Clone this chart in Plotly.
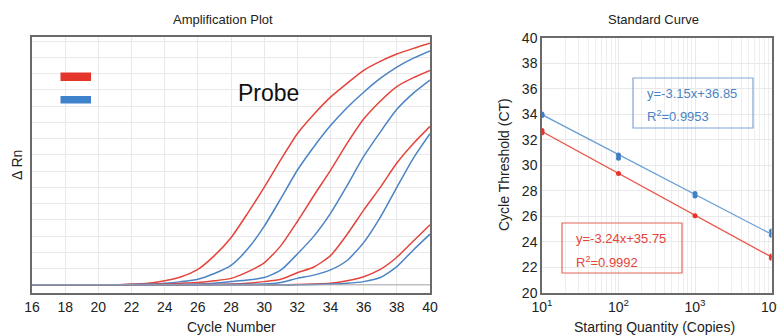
import plotly.graph_objects as go

# ---------------- data ----------------
cycles = list(range(16, 41))
z6 = [0, 0, 0, 0, 0, 0]
red1 = z6 + [0.05, 0.1, 0.25, 0.5, 0.95, 1.8, 2.9, 4.4, 6.0, 7.7, 9.3, 10.5, 11.55, 12.4, 13.2, 13.75, 14.2, 14.55, 14.87]
blue1 = z6 + [0.02, 0.05, 0.1, 0.2, 0.35, 0.7, 1.2, 2.2, 3.6, 5.3, 7.05, 8.5, 9.8, 10.9, 11.85, 12.7, 13.4, 13.95, 14.4]
red2 = z6 + [0.0, 0.02, 0.05, 0.1, 0.15, 0.25, 0.4, 0.8, 1.35, 2.4, 3.9, 5.5, 7.05, 8.7, 10.2, 11.3, 12.2, 12.75, 13.2]
blue2 = z6 + [0.0, 0.0, 0.02, 0.03, 0.05, 0.1, 0.2, 0.3, 0.45, 0.9, 1.9, 3.0, 4.4, 6.1, 7.9, 9.4, 10.8, 11.8, 12.6]
red3 = z6 + [0.0, 0.0, 0.0, 0.0, 0.02, 0.03, 0.05, 0.1, 0.2, 0.35, 0.75, 1.1, 1.8, 3.1, 4.6, 6.0, 7.5, 8.7, 9.75]
blue3 = z6 + [0.0, 0.0, 0.0, 0.0, 0.0, 0.02, 0.03, 0.04, 0.05, 0.15, 0.4, 0.6, 0.92, 1.5, 2.6, 4.15, 6.0, 7.8, 9.3]
red4 = z6 + [0.0, 0.0, 0.0, 0.0, 0.0, 0.0, 0.0, 0.0, 0.0, 0.0, 0.02, 0.05, 0.1, 0.25, 0.5, 0.95, 1.7, 2.7, 3.7]
blue4 = z6 + [0.0, 0.0, 0.0, 0.0, 0.0, 0.0, 0.0, 0.0, 0.0, 0.0, 0.0, 0.02, 0.05, 0.1, 0.2, 0.45, 1.12, 2.15, 3.12]

amp_x_ticks = list(range(16, 41, 2))

quantity_blue = [10, 10, 100, 100, 1000, 1000, 10000, 10000]
ct_blue = [34.03, 33.9, 30.82, 30.56, 27.8, 27.6, 24.86, 24.53]
quantity_red = [10, 10, 100, 1000, 10000, 10000]
ct_red = [32.73, 32.55, 29.36, 26.05, 22.9, 22.72]
fit_x = [10, 10000]
fit_blue = [33.97, 24.6]
fit_red = [32.65, 22.82]
sq_tickvals = [10, 100, 1000, 10000]
sq_ticktext = ["10<sup>1</sup>", "10<sup>2</sup>", "10<sup>3</sup>", "10<sup>4</sup>"]
sq_minor = [2, 3, 4, 5, 6, 7, 8, 9, 20, 30, 40, 50, 60, 70, 80, 90,
            200, 300, 400, 500, 600, 700, 800, 900, 2000, 3000, 4000, 5000, 6000, 7000, 8000, 9000]
eq_blue = ["y=-3.15x+36.85", "R<sup>2</sup>=0.9953"]
eq_red = ["y=-3.24x+35.75", "R<sup>2</sup>=0.9992"]

RED = "#e4443b"
BLUE = "#4a84c4"
FONT = "Liberation Sans, Arial, sans-serif"
W, H = 777, 335


def px(x):
    return x / W


def py(y):
    return 1 - y / H


fig = go.Figure()

for ys, col in [(red1, RED), (blue1, BLUE), (red2, RED), (blue2, BLUE),
                (red3, RED), (blue3, BLUE), (red4, RED), (blue4, BLUE)]:
    fig.add_trace(go.Scatter(x=cycles, y=ys, mode="lines", xaxis="x", yaxis="y",
                             line=dict(color=col, width=1.5, shape="spline", smoothing=0.6),
                             showlegend=False, hoverinfo="skip"))

fig.add_trace(go.Scatter(x=fit_x, y=fit_blue, mode="lines", xaxis="x2", yaxis="y2",
                         line=dict(color="#6a9fd6", width=1.3), showlegend=False))
fig.add_trace(go.Scatter(x=fit_x, y=fit_red, mode="lines", xaxis="x2", yaxis="y2",
                         line=dict(color="#e8574c", width=1.3), showlegend=False))
fig.add_trace(go.Scatter(x=quantity_blue, y=ct_blue, mode="markers", xaxis="x2", yaxis="y2",
                         marker=dict(color="#3f7fc4", size=5), showlegend=False))
fig.add_trace(go.Scatter(x=quantity_red, y=ct_red, mode="markers", xaxis="x2", yaxis="y2",
                         marker=dict(color="#e8332a", size=5), showlegend=False))

GRID = "#e9e9e9"
FRAME = "#6a6a6a"
tickfont = dict(family=FONT, size=14, color="#222")

fig.update_layout(
    width=W, height=H,
    margin=dict(l=0, r=0, t=0, b=0),
    paper_bgcolor="white", plot_bgcolor="white",
    font=dict(family=FONT, color="#222"),
    xaxis=dict(domain=[px(32), px(430)], range=[16, 40], tickvals=amp_x_ticks,
               showgrid=True, gridcolor=GRID, gridwidth=1, zeroline=False,
               showline=True, linecolor=FRAME, linewidth=1.5, mirror=True,
               ticks="", tickfont=tickfont, automargin=False),
    yaxis=dict(domain=[py(293), py(37)], range=[-0.5, 15.25], tick0=0, dtick=1,
               showgrid=True, gridcolor=GRID, gridwidth=1, zeroline=False,
               showticklabels=False, ticks="",
               showline=True, linecolor=FRAME, linewidth=1.5, mirror=True, automargin=False),
    xaxis2=dict(domain=[px(542), px(771.5)], type="log", range=[1, 4],
                tickvals=sq_tickvals, ticktext=sq_ticktext, ticklabeloverflow="allow",
                showgrid=True, gridcolor=GRID, gridwidth=1, zeroline=False,
                minor=dict(tickvals=sq_minor, showgrid=True, gridcolor="#eeeeee", gridwidth=1, ticks=""),
                showline=True, linecolor=FRAME, linewidth=1.5, mirror=True,
                ticks="", tickfont=tickfont, automargin=False, anchor="y2"),
    yaxis2=dict(domain=[py(293), py(37.7)], range=[20, 40], dtick=2,
                showgrid=True, gridcolor=GRID, gridwidth=1, zeroline=False,
                showline=True, linecolor=FRAME, linewidth=1.5, mirror=True,
                ticks="", tickfont=tickfont, automargin=False, anchor="x2"),
)

# threshold/baseline line
fig.add_shape(type="line", xref="x domain", yref="y", x0=0, x1=1, y0=0, y1=0,
              line=dict(color="#a8a8a8", width=1))

# colour keys
fig.add_shape(type="rect", xref="paper", yref="paper", x0=px(60.5), x1=px(91), y0=py(81), y1=py(72.5),
              fillcolor="#e5352b", line=dict(width=0))
fig.add_shape(type="rect", xref="paper", yref="paper", x0=px(60.5), x1=px(91), y0=py(103.5), y1=py(96),
              fillcolor="#3f82cc", line=dict(width=0))

# equation boxes
fig.add_shape(type="rect", xref="paper", yref="paper", x0=px(633), x1=px(753), y0=py(128), y1=py(78),
              line=dict(color="#7fa6d4", width=1.2), fillcolor="rgba(0,0,0,0)")
fig.add_shape(type="rect", xref="paper", yref="paper", x0=px(562), x1=px(682), y0=py(273), y1=py(223),
              line=dict(color="#e8655b", width=1.2), fillcolor="rgba(0,0,0,0)")

ann = []


def text(x, y, s, size=13, color="#222", angle=0, xanchor="center"):
    ann.append(dict(x=px(x), y=py(y), xref="paper", yref="paper", text=s, showarrow=False,
                    font=dict(family=FONT, size=size, color=color), textangle=angle,
                    xanchor=xanchor, yanchor="middle"))


text(223, 19, "Amplification Plot", size=13)
text(231, 327, "Cycle Number", size=14)
text(17, 165, "Δ Rn", size=14, angle=-90)
text(268, 93, "Probe", size=23, color="#111")

text(653, 20, "Standard Curve", size=13)
text(654, 327, "Starting Quantity (Copies)", size=14)
text(504, 165, "Cycle Threshold (CT)", size=14, angle=-90)

text(645, 93, eq_blue[0], size=13, color="#4a84c4", xanchor="left")
text(645, 116, eq_blue[1], size=13, color="#4a84c4", xanchor="left")
text(574, 238, eq_red[0], size=13, color="#e4443b", xanchor="left")
text(574, 262, eq_red[1], size=13, color="#e4443b", xanchor="left")

fig.update_layout(annotations=ann)

fig.write_html("out.html", config={"displayModeBar": False},
               post_script="document.body.style.margin='0';document.body.style.padding='0';")
